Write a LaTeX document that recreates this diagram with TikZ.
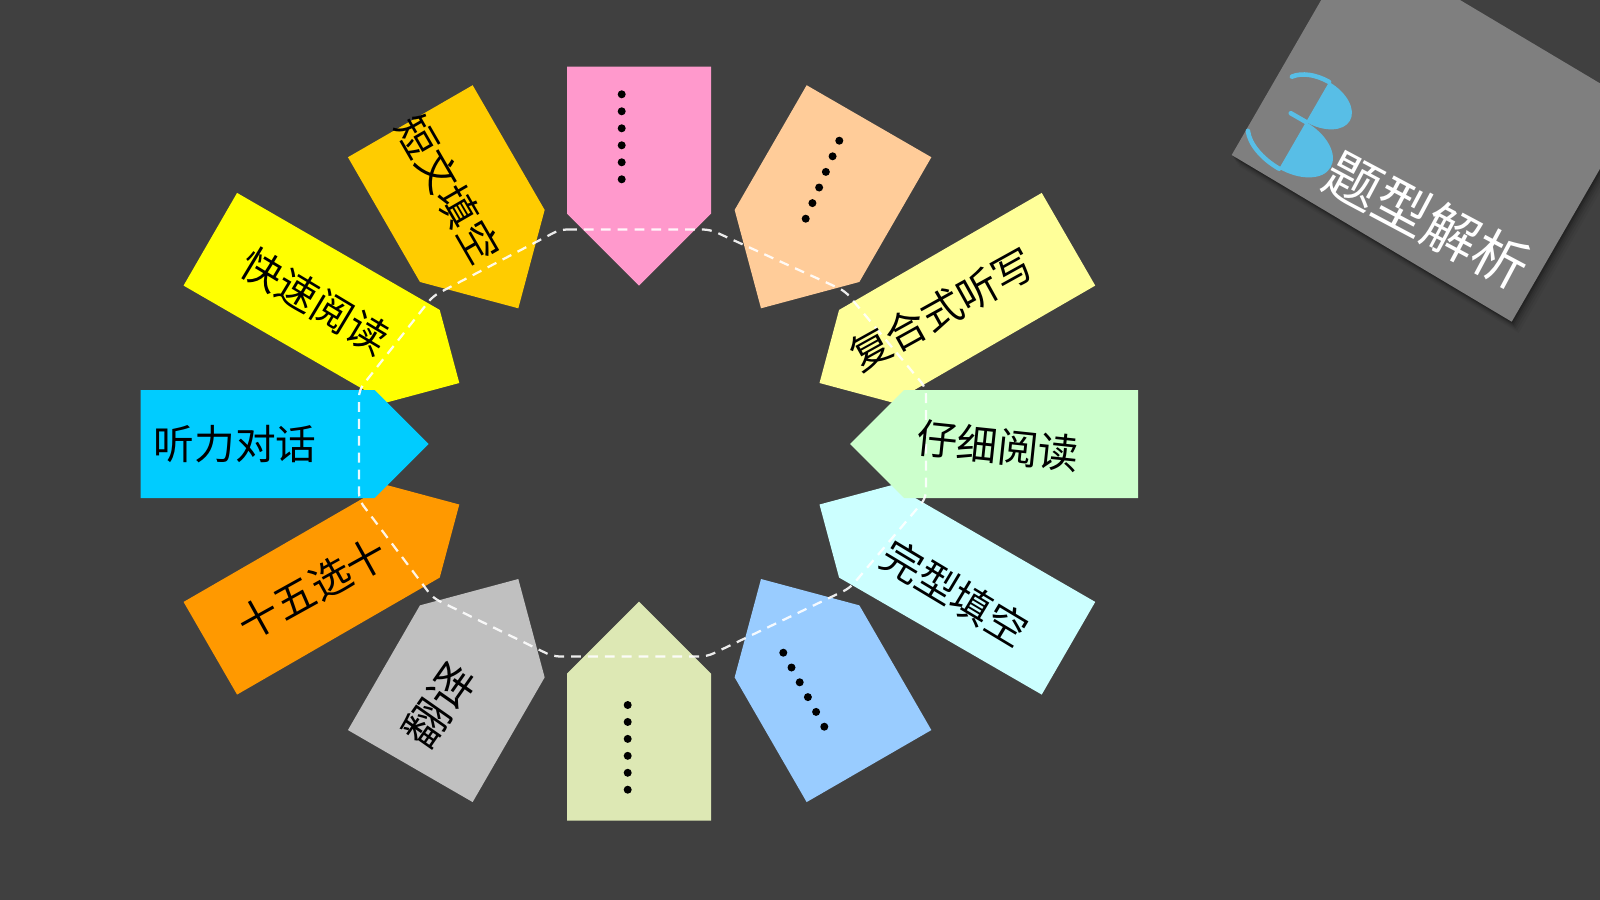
\documentclass[tikz,border=0pt]{standalone}
\usepackage{fontspec}
\newfontfamily\cjkfont{Noto Sans CJK SC}
\definecolor{bgc}{RGB}{64,64,64}
\definecolor{cpink}{RGB}{255,153,204}
\definecolor{cpeach}{RGB}{255,204,153}
\definecolor{cgold}{RGB}{255,204,0}
\definecolor{cyel}{RGB}{255,255,0}
\definecolor{cltyel}{RGB}{255,255,153}
\definecolor{ccyan}{RGB}{0,204,255}
\definecolor{cgreen}{RGB}{204,255,204}
\definecolor{corange}{RGB}{255,153,0}
\definecolor{cltcyan}{RGB}{204,255,255}
\definecolor{cgray}{RGB}{192,192,192}
\definecolor{cltblue}{RGB}{153,204,255}
\definecolor{colive}{RGB}{221,232,180}
\definecolor{badgegray}{RGB}{127,127,127}
\definecolor{badgeblue}{RGB}{88,190,230}
% tip x, tip y, pointing angle, width, body length, colour
\newcommand{\tagshape}[6]{%
  \begin{scope}[shift={(#1,#2)},rotate=#3]
    \fill[#6] (0,0) -- ({-#4/2},{-#4/2}) -- ({-#4/2-#5},{-#4/2}) -- ({-#4/2-#5},{#4/2}) -- ({-#4/2},{#4/2}) -- cycle;
  \end{scope}}
\begin{document}
\begin{tikzpicture}[x=0.05cm,y=-0.05cm,
  tagtext/.style={font=\cjkfont\fontsize{58}{60}\selectfont, text=black, inner sep=0pt},
  titletext/.style={font=\cjkfont\fontsize{79}{82}\selectfont, text=white, inner sep=0pt},
  ring/.style={draw=white, opacity=0.9, line width=3.2pt, dash pattern=on 14pt off 10pt, rounded corners=10pt},
  thinstroke/.style={draw=badgeblue, line width=6.5pt, line cap=round}]
\useasboundingbox (0,0) rectangle (1600,900);
\fill[bgc] (0,0) rectangle (1600,900);

% badge top right
\begin{scope}
  \clip (0,0) rectangle (1600,900);
  \foreach \s/\o in {2/0.14,4/0.11,6/0.09,8/0.07,11/0.05,14/0.04}
    \fill[black, opacity=\o, shift={(\s*0.5,\s*0.8)}] (1231.7,155) -- (1511.7,321.7) -- (1636.7,105.2) -- (1356.7,-61.5) -- cycle;
  \fill[badgegray] (1231.7,155) -- (1511.7,321.7) -- (1636.7,105.2) -- (1356.7,-61.5) -- cycle;
\end{scope}
% stylised 3
\begin{scope}[shift={(1306,122)}, x={(0.0433cm,-0.025cm)}, y={(0.025cm,0.0433cm)}, scale=1.1]
  \fill[badgeblue] (0,0) -- (0,42) arc[start angle=90, end angle=-90, x radius=34, y radius=21] -- cycle;
  \fill[badgeblue] (0,0) arc[start angle=90, end angle=-90, x radius=40, y radius=24.5] -- cycle;
  \draw[thinstroke] (0,42) arc[start angle=90, end angle=155, x radius=35, y radius=22];
  \draw[thinstroke] (-16,0) -- (0,0);
  \draw[thinstroke] (0,-49) arc[start angle=-90, end angle=-158, x radius=45, y radius=25];
\end{scope}
\node[titletext, rotate=-28] (title) at (1427,220) {题型解析};

% tags (tip x, tip y, direction, width, length, colour)
\tagshape{639}{285.7}{-90}{144}{147}{cpink}
\tagshape{761}{308.3}{-120}{144}{144}{cpeach}
\tagshape{518.3}{308.3}{-60}{144}{144}{cgold}
\tagshape{819.5}{383}{-150}{107}{234}{cltyel}
\tagshape{459.3}{383}{-30}{107}{234}{cyel}
\tagshape{819.5}{504.5}{150}{107}{234}{cltcyan}
\tagshape{459.3}{504.5}{30}{107}{234}{corange}
\tagshape{518.3}{579}{60}{144}{144}{cgray}
\tagshape{761}{579}{120}{144}{144}{cltblue}
\tagshape{639}{601.7}{90}{144}{147}{colive}
\tagshape{428.6}{444}{0}{108}{234}{ccyan}
\tagshape{850}{444}{180}{108}{234}{cgreen}

% dashed ring
\draw[ring] (560,229.5) -- (710,229.5) -- (845,291) -- (926,388) -- (926,498) -- (850,588)
  -- (707,656.5) -- (553,656.5) -- (433,598) -- (359,500) -- (359,390) -- (433,296) -- cycle;

% dots
\foreach \k in {0,...,5} {
  \fill (621.7,{94.3+17*\k}) circle[radius=4];
  \fill ({839.3-6.72*\k},{140.7+15.6*\k}) circle[radius=4];
  \fill ({783.3+8.2*\k},{652.7+14.8*\k}) circle[radius=4];
  \fill (627.7,{705+16.94*\k}) circle[radius=4];
}

% labels
\node[tagtext, rotate=-60] (dwtk) at (448.3,189) {短文填空};
\node[tagtext, rotate=-31] (ksyd) at (315,301.7) {快速阅读};
\node[tagtext] (tldh) at (235,444) {听力对话};
\node[tagtext, rotate=29] (swxs) at (312.5,588.3) {十五选十};
\node[tagtext, rotate=55, font=\cjkfont\fontsize{64}{66}\selectfont] (fy) at (439,705) {翻译};
\node[tagtext, rotate=29] (fhstx) at (941.7,310) {复合式听写};
\node[tagtext, rotate=-6] (zxyd) at (998,446) {仔细阅读};
\node[tagtext, rotate=-31] (wxtk) at (955,593) {完型填空};
\end{tikzpicture}
\end{document}
